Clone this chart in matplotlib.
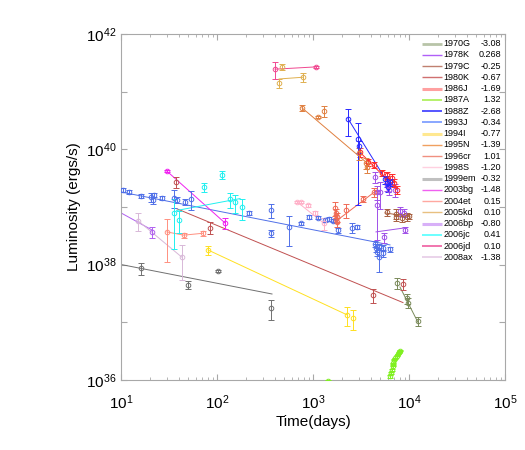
import numpy as np
import matplotlib
matplotlib.use('Agg')
import matplotlib.pyplot as plt
from matplotlib.ticker import LogLocator, FuncFormatter, NullLocator, NullFormatter

plt.rcParams['font.family'] = ['Liberation Sans', 'DejaVu Sans']
plt.rcParams['mathtext.default'] = 'regular'

# times in days, luminosities (and errors) in units of 1e38 ergs/s
names = ['1970G', '1978K', '1979C', '1980K', '1986J', '1987A', '1988Z', '1993J',
         '1994I', '1995N', '1996cr', '1998S', '1999em', '2003bg', '2004et',
         '2005kd', '2006bp', '2006jc', '2006jd', '2008ax']
slopes = ['-3.08', '0.268', '-0.25', '-0.67', '-1.69', '1.32', '-2.68', '-0.34',
          '-0.77', '-1.39', '1.01', '-1.20', '-0.32', '-1.48', '0.15',
          '0.10', '-0.80', '0.41', '0.10', '-1.38']

t_1970G = [7500, 9530, 9770, 12400]
L_1970G = [0.48, 0.26, 0.22, 0.105]
e_1970G = [0.1, 0.05, 0.04, 0.018]
fit_t_1970G = [8050, 12400]
fit_L_1970G = [0.41, 0.10]

t_1978K = [4426, 4645, 4645, 4990, 5900, 6190, 7150, 8050, 8870, 5500, 9080]
L_1978K = [33, 18.2, 10.7, 18.2, 24, 20, 19.7, 8.5, 7.9, 3.0, 4.0]
e_1978K = [7, 5, 8, 9, 5, 4, 5, 1.5, 1.2, 0.6, 0.5]
fit_t_1978K = [4530, 9530]
fit_L_1978K = [3.7, 4.4]

t_1979C = [5900, 7330, 7330, 8450, 9530, 10000]
L_1979C = [8.1, 7.6, 6.7, 6.5, 6.8, 6.9]
e_1979C = [1.2, 1.5, 1.0, 1.0, 1.0, 0.8]
fit_t_1979C = [5620, 10230]
fit_L_1979C = [7.9, 6.8]

t_1980K = [37.4, 84.5, 4217, 8660]
L_1980K = [27, 4.4, 0.30, 0.46]
e_1980K = [6, 1.0, 0.08, 0.1]
fit_t_1980K = [38.3, 8660]
fit_L_1980K = [9.3, 0.22]

t_1986J = [3090, 3741, 4315, 5236, 5900, 5900, 6650, 6980, 7500]
L_1986J = [89, 60, 54, 39, 36, 30, 32, 26, 20]
e_1986J = [15, 8, 6, 5, 4, 4, 5, 4, 3]
fit_t_1986J = [3090, 7500]
fit_L_1986J = [89, 20]

t_1987A = [1430, 6340, 6490, 6650, 6760, 6860, 7030, 7200, 7450, 7620, 7810, 8000]
L_1987A = [0.0095, 0.0115, 0.0132, 0.0151, 0.0178, 0.0195, 0.0224, 0.024,
           0.0263, 0.0282, 0.0302, 0.0324]
e_1987A = [0.0005] * 12
fit_t_1987A = [6340, 8000]
fit_L_1987A = [0.0115, 0.0324]

t_1988Z = [2317, 2944, 2980, 5620, 5900, 6040, 6340]
L_1988Z = [339, 151, 112, 30, 26, 22, 27]
e_1988Z = [170, 140, 25, 5, 4, 4, 4]
fit_t_1988Z = [2317, 6040]
fit_L_1988Z = [339, 26]

t_1993J = [10.5, 12.1, 16.1, 20.5, 21.5, 22.1, 26.7, 35.6, 38.3, 46.4, 53.6, 215,
           365, 365, 562, 750, 908, 1127, 1334, 1468, 1614, 1820, 2547, 2871,
           4426, 4530, 4645, 4870, 5358, 5358, 4870, 6340]
L_1993J = [19.7, 18.2, 15.5, 14.8, 13.2, 16.2, 14.5, 14.5, 13.2, 12.3, 13.8, 7.9,
           8.9, 3.5, 4.5, 5.2, 6.8, 6.5, 6.0, 6.2, 5.8, 4.0, 4.4, 4.5,
           2.3, 1.95, 1.66, 2.04, 1.95, 1.58, 1.35, 1.86]
e_1993J = [1.5, 1.2, 1.0, 2.5, 2.0, 1.2, 1.2, 5, 1.5, 1.5, 5, 0.6,
           2.5, 0.5, 2.4, 0.4, 0.5, 0.4, 0.4, 0.4, 0.4, 0.4, 0.8, 0.4,
           0.3, 0.3, 0.25, 0.25, 0.25, 0.2, 0.6, 0.2]
fit_t_1993J = [10, 6340]
fit_L_1993J = [18.2, 2.2]

t_1994I = [80.5, 2259, 2612]
L_1994I = [1.8, 0.135, 0.12]
e_1994I = [0.3, 0.05, 0.045]
fit_t_1994I = [80.5, 2259]
fit_L_1994I = [1.8, 0.135]

t_1995N = [767, 1127, 1303, 3000, 3565, 3650]
L_1995N = [525, 363, 457, 85, 58, 49]
e_1995N = [60, 15, 100, 20, 12, 10]
fit_t_1995N = [767, 3652]
fit_L_1995N = [525, 58]

t_1996cr = [1694, 1738, 1778, 1738, 1778, 2208, 3319, 4315]
L_1996cr = [9.5, 7.9, 6.8, 6.2, 5.5, 8.9, 13.8, 18.2]
e_1996cr = [2.5, 1.5, 1.2, 1.0, 1.0, 2.5, 1.5, 3.0]
fit_t_1996cr = [1694, 4645]
fit_L_1996cr = [5.5, 19.7]

t_1998S = [681, 750, 887, 1049, 1303]
L_1998S = [12.3, 12.3, 10.7, 7.9, 5.2]
e_1998S = [0.6, 0.6, 0.6, 0.5, 1.2]
fit_t_1998S = [681, 1303]
fit_L_1998S = [12.3, 5.2]

t_1999em = [16.1, 50, 102, 365]
L_1999em = [0.87, 0.45, 0.78, 0.178]
e_1999em = [0.22, 0.07, 0.04, 0.07]
fit_t_1999em = [10.2, 374]
fit_L_1999em = [1.0, 0.31]

t_2003bg = [30, 121]
L_2003bg = [42, 5.3]
e_2003bg = [1.0, 1.2]
fit_t_2003bg = [30, 121]
fit_L_2003bg = [42, 5.3]

t_2004et = [30, 45, 71]
L_2004et = [3.7, 3.25, 3.5]
e_2004et = [2.6, 0.3, 0.3]
fit_t_2004et = [30, 45, 71]
fit_L_2004et = [3.7, 3.25, 3.5]

t_2005kd = [475, 443, 787]
L_2005kd = [2690, 1413, 1780]
e_2005kd = [300, 250, 300]
fit_t_2005kd = [443, 787]
fit_L_2005kd = [1660, 1780]

t_2006bp = [21]
L_2006bp = [3.7]
e_2006bp = [0.8]
fit_t_2006bp = [10, 21]
fit_L_2006bp = [7.9, 4.0]

t_2006jc = [35.6, 40, 73, 113, 136, 154, 182]
L_2006jc = [7.9, 6.0, 22, 36, 13.8, 12, 10]
e_2006jc = [6, 2.5, 4, 6, 4, 4, 4]
fit_t_2006jc = [38, 174]
fit_L_2006jc = [8.7, 14]

t_2006jd = [402, 1074]
L_2006jd = [2455, 2690]
e_2006jd = [800, 150]
fit_t_2006jd = [402, 1074]
fit_L_2006jd = [2455, 2690]

t_2008ax = [15, 43]
L_2008ax = [5.8, 1.35]
e_2008ax = [2, 0.8]
fit_t_2008ax = [15, 43]
fit_L_2008ax = [5.8, 1.35]

# colours of the points/lines and of the legend swatches
data_colors = ['#7a8a5a', '#a050e8', '#a86040', '#c05050', '#ff2a2a', '#80f020',
               '#2828ff', '#5070e8', '#ffe020', '#e08040', '#f06a55', '#ffb0c8',
               '#707070', '#f020f0', '#ff9080', '#e0b050', '#b060f0', '#20f0f0',
               '#f04890', '#d8b8d8']
legend_colors = ['#b8c4a8', '#b060f8', '#c08070', '#d07070', '#ffa0a0', '#b0f060',
                 '#4848ff', '#80a0ff', '#ffe890', '#f0a060', '#f09080', '#ffd0e0',
                 '#c0c0c0', '#f060f0', '#ffa8a0', '#e8c080', '#d8b0f8', '#60ffff',
                 '#f06aa8', '#e8d0e8']
legend_widths = [2.0, 1.0, 1.0, 1.0, 2.2, 1.3, 1.3, 1.3, 2.2, 1.0, 1.0, 1.0,
                 2.2, 1.0, 1.0, 1.0, 2.2, 1.3, 1.3, 1.3]

g = globals()
sne = {n: (g['t_' + n], g['L_' + n], g['e_' + n], g['fit_t_' + n], g['fit_L_' + n])
       for n in names}

fig = plt.figure(figsize=(5.25, 4.5), dpi=100)
ax = fig.add_axes([121 / 525, 70 / 450, 384 / 525, 346 / 450])

for n, c in zip(names, data_colors):
    t, L, e, ft, fL = sne[n]
    L = np.array(L) * 1e38
    e = np.array(e) * 1e38
    ax.plot(ft, np.array(fL) * 1e38, color=c, lw=0.7, zorder=2)
    ax.errorbar(t, L, yerr=e, fmt='o', ms=3.3, mfc='none', mec=c, mew=0.7,
                ecolor=c, elinewidth=0.7, capsize=2, capthick=0.7, zorder=3)

ax.set_xscale('log')
ax.set_yscale('log')
ax.set_xlim(10, 1e5)
ax.set_ylim(1e36, 1e42)

ax.xaxis.set_major_locator(LogLocator(base=10, numticks=10))
ax.xaxis.set_minor_locator(LogLocator(base=10, subs=np.arange(2, 10), numticks=20))
ax.xaxis.set_minor_formatter(NullFormatter())
ax.yaxis.set_major_locator(LogLocator(base=10, numticks=12))
ax.yaxis.set_minor_locator(NullLocator())


def ylab(v, pos):
    p = int(round(np.log10(v)))
    return '$10^{%d}$' % p if p % 2 == 0 else ''


ax.yaxis.set_major_formatter(FuncFormatter(ylab))
ax.xaxis.set_major_formatter(FuncFormatter(lambda v, p: '$10^{%d}$' % int(round(np.log10(v)))))

for s in ax.spines.values():
    s.set_color('#a8a8a8')
ax.tick_params(which='both', direction='in', top=True, right=True, color='#a8a8a8',
               labelsize=11)
ax.tick_params(which='major', length=4)
ax.tick_params(which='minor', length=2.5)
ax.tick_params(axis='x', pad=10)
ax.tick_params(axis='y', pad=3)

ax.set_xlabel('Time(days)', fontsize=11, labelpad=2)
ax.set_ylabel('Luminosity (ergs/s)', fontsize=11, labelpad=4)

# legend drawn by hand: swatch, name, slope
for i, n in enumerate(names):
    y = 1 - (43.7 + 11.24 * i - 34) / 346
    ax.plot([0.783, 0.835], [y, y], transform=ax.transAxes, color=legend_colors[i],
            lw=legend_widths[i], solid_capstyle='butt', clip_on=False, zorder=4)
    ax.text(0.840, y, n, transform=ax.transAxes, fontsize=6.5, va='center', ha='left')
    ax.text(0.990, y, slopes[i], transform=ax.transAxes, fontsize=6.5, va='center', ha='right')

fig.savefig('out.png', dpi=100)
